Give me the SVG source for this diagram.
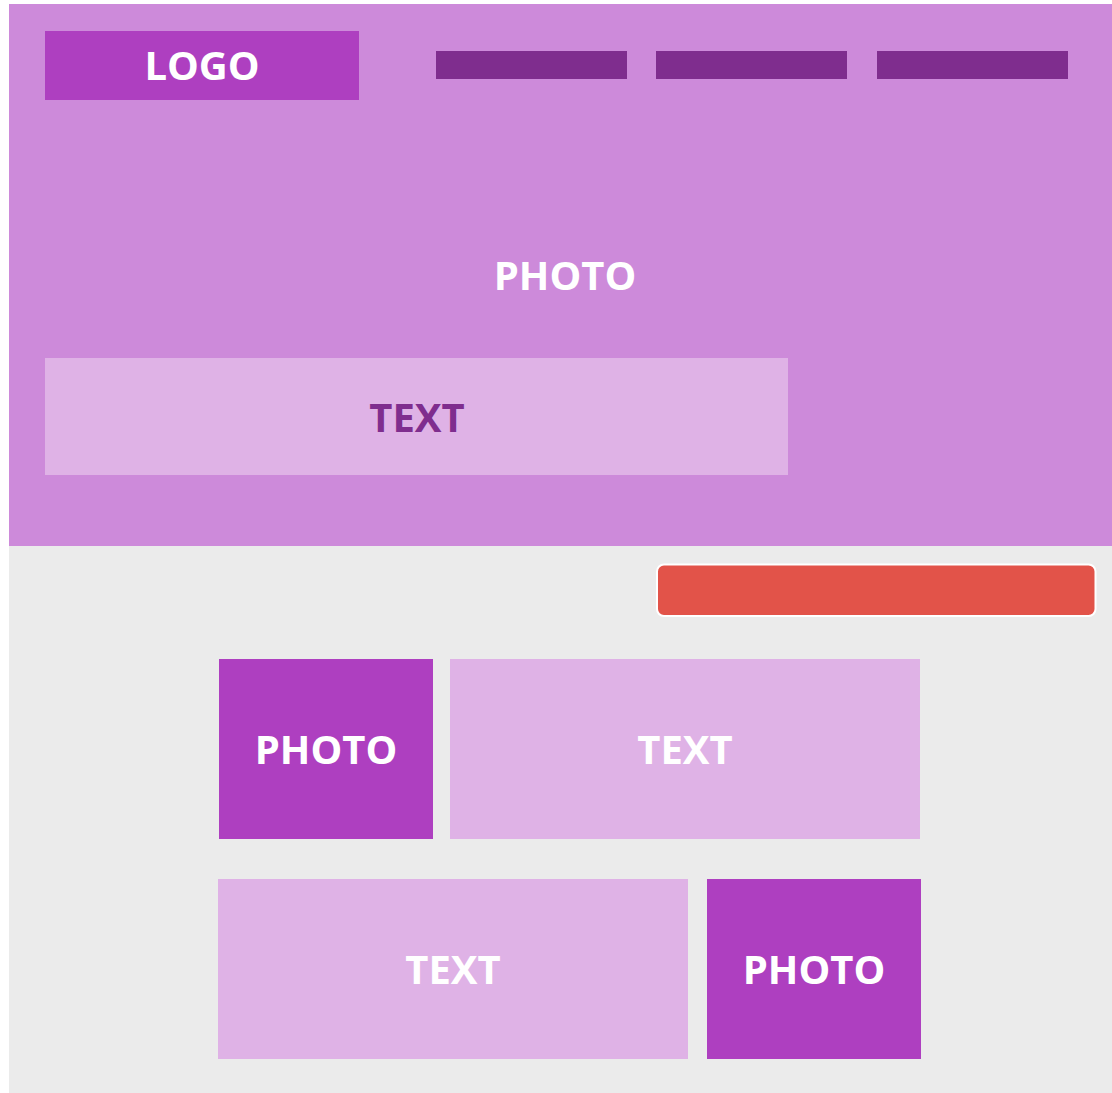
<svg xmlns="http://www.w3.org/2000/svg" width="1112" height="1093" viewBox="0 0 1112 1093">
<style>
.t{font-family:"Open Sans","Liberation Sans",sans-serif;font-weight:700;font-size:40px;text-anchor:middle;fill:#ffffff}
.dark{fill:#AE3FC0}
.light{fill:#DFB2E6}
.nav{fill:#7F2D8E}
</style>
<rect width="1112" height="1093" fill="#ffffff"/>
<g id="footer-bg"><rect x="9" y="546" width="1103" height="547" fill="#EBEBEB"/></g>
<g id="hero"><rect x="9" y="4" width="1103" height="542" fill="#CD8ADA"/><text class="t" x="565" y="290">PHOTO</text></g>
<g id="logo"><rect class="dark" x="45" y="31" width="314" height="69"/><text class="t" x="202" y="80">LOGO</text></g>
<g id="nav1"><rect class="nav" x="436" y="51" width="191" height="28"/></g>
<g id="nav2"><rect class="nav" x="656" y="51" width="191" height="28"/></g>
<g id="nav3"><rect class="nav" x="877" y="51" width="191" height="28"/></g>
<g id="hero-text"><rect class="light" x="45" y="358" width="743" height="117"/><text class="t" x="417" y="432" style="fill:#7F2D8E">TEXT</text></g>
<g id="button"><rect x="657" y="564.5" width="438.5" height="51.5" rx="7" fill="#E25349" stroke="#ffffff" stroke-width="2"/></g>
<g id="photo1"><rect class="dark" x="219" y="659" width="214" height="180"/><text class="t" x="326" y="764">PHOTO</text></g>
<g id="text1"><rect class="light" x="450" y="659" width="470" height="180"/><text class="t" x="685" y="764">TEXT</text></g>
<g id="text2"><rect class="light" x="218" y="879" width="470" height="180"/><text class="t" x="453" y="984">TEXT</text></g>
<g id="photo2"><rect class="dark" x="707" y="879" width="214" height="180"/><text class="t" x="814" y="984">PHOTO</text></g>
<g id="connectors"/>
</svg>
